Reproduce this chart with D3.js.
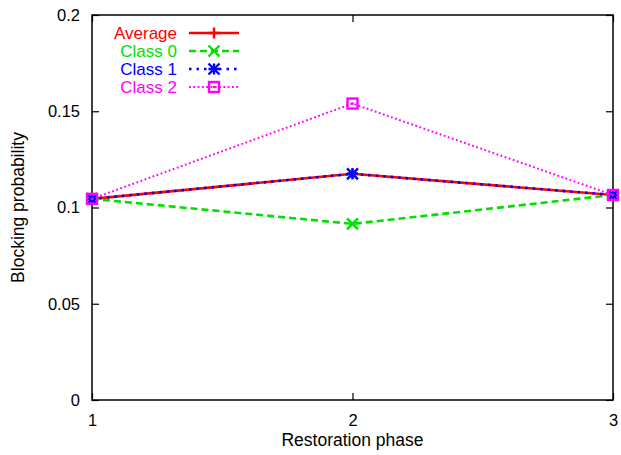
<!DOCTYPE html>
<html>
<head>
<meta charset="utf-8">
<script src="https://cdn.jsdelivr.net/npm/d3@7"></script>
<style>
  body { margin: 0; background: #fff; }
  text { font-family: "Liberation Sans", Arial, sans-serif; }
</style>
</head>
<body>
<script>
const w = 621
const h = 455

// data
const phases = [1, 2, 3]
const average = [0.1045, 0.1175, 0.1065]
const class0 = [0.1045, 0.0915, 0.1065]
const class1 = [0.1045, 0.1175, 0.1065]
const class2 = [0.1045, 0.1540, 0.1065]
const yTicks = [0, 0.05, 0.1, 0.15, 0.2]
const xTicks = [1, 2, 3]

const series = [
    {name: 'Average', values: average, color: '#ff0000', dash: null, width: 2.6, mark: 'plus'},
    {name: 'Class 0', values: class0, color: '#00e000', dash: '7,4', width: 2.6, mark: 'cross'},
    {name: 'Class 1', values: class1, color: '#0000ff', dash: '2.5,5', width: 2.6, mark: 'star'},
    {name: 'Class 2', values: class2, color: '#ff00ff', dash: '1.8,2.5', width: 2, mark: 'box'}
]

const m = {left: 92, right: 8, top: 15, bottom: 55}

const x = d3.scaleLinear().domain([1, 3]).range([m.left, w - m.right])
const y = d3.scaleLinear().domain([0, 0.2]).range([h - m.bottom, m.top])

const svg = d3.select('body').append('svg')
    .attr('width', w)
    .attr('height', h)

const fmt = function (d) { return d === 0 ? '0' : String(+d.toFixed(2)) }

// axes (gnuplot style, ticks inside and mirrored)
svg.append('g')
    .attr('transform', `translate(0,${h - m.bottom})`)
    .call(d3.axisBottom(x).tickValues(xTicks).tickSize(-7).tickPadding(14).tickFormat(d3.format('d')))
svg.append('g')
    .attr('transform', `translate(0,${m.top})`)
    .call(d3.axisTop(x).tickValues(xTicks).tickSize(-7).tickFormat(''))
svg.append('g')
    .attr('transform', `translate(${m.left},0)`)
    .call(d3.axisLeft(y).tickValues(yTicks).tickSize(-7).tickPadding(12).tickFormat(fmt))
svg.append('g')
    .attr('transform', `translate(${w - m.right},0)`)
    .call(d3.axisRight(y).tickValues(yTicks).tickSize(-7).tickFormat(''))

svg.selectAll('.domain').remove()
svg.selectAll('.tick line').attr('stroke', '#000').attr('stroke-width', 1.2)
svg.selectAll('.tick text').attr('font-size', 16.5).attr('fill', '#000')

svg.append('rect')
    .attr('x', m.left)
    .attr('y', m.top)
    .attr('width', w - m.left - m.right)
    .attr('height', h - m.top - m.bottom)
    .attr('fill', 'none')
    .attr('stroke', '#000')
    .attr('stroke-width', 1.5)

svg.append('text')
    .attr('x', (m.left + w - m.right) / 2)
    .attr('y', 446)
    .attr('text-anchor', 'middle')
    .attr('font-size', 17.5)
    .text('Restoration phase')

svg.append('text')
    .attr('transform', `translate(24,${(m.top + h - m.bottom) / 2}) rotate(-90)`)
    .attr('text-anchor', 'middle')
    .attr('font-size', 17.5)
    .text('Blocking probability')

function marker(g, type, color) {
    const s = 5.5
    if (type === 'plus' || type === 'star') {
        g.append('path').attr('d', `M${-s},0H${s}M0,${-s}V${s}`)
            .attr('stroke', color).attr('stroke-width', 2.4)
    }
    if (type === 'cross' || type === 'star') {
        g.append('path').attr('d', `M${-s},${-s}L${s},${s}M${-s},${s}L${s},${-s}`)
            .attr('stroke', color).attr('stroke-width', 2.4)
    }
    if (type === 'box') {
        g.append('rect').attr('x', -5).attr('y', -5).attr('width', 10).attr('height', 10)
            .attr('fill', 'none').attr('stroke', color).attr('stroke-width', 2.4)
        g.append('rect').attr('x', -1.2).attr('y', -1.2).attr('width', 2.4).attr('height', 2.4)
            .attr('fill', color)
    }
}

const line = d3.line()
    .x(function (d, i) { return x(phases[i]) })
    .y(function (d) { return y(d) })

series.forEach(function (s) {
    svg.append('path')
        .datum(s.values)
        .attr('d', line)
        .attr('fill', 'none')
        .attr('stroke', s.color)
        .attr('stroke-width', s.width)
        .attr('stroke-dasharray', s.dash)

    s.values.forEach(function (v, i) {
        const g = svg.append('g').attr('transform', `translate(${x(phases[i])},${y(v)})`)
        marker(g, s.mark, s.color)
    })
})

// legend
const legend = svg.append('g')
series.forEach(function (s, i) {
    const ly = 33 + i * 18
    legend.append('text')
        .attr('x', 177)
        .attr('y', ly + 6)
        .attr('text-anchor', 'end')
        .attr('font-size', 17)
        .attr('fill', s.color)
        .text(s.name)
    legend.append('line')
        .attr('x1', 189).attr('x2', 239)
        .attr('y1', ly).attr('y2', ly)
        .attr('stroke', s.color)
        .attr('stroke-width', s.width)
        .attr('stroke-dasharray', s.dash)
    const g = legend.append('g').attr('transform', `translate(214,${ly})`)
    marker(g, s.mark, s.color)
})
</script>
</body>
</html>
